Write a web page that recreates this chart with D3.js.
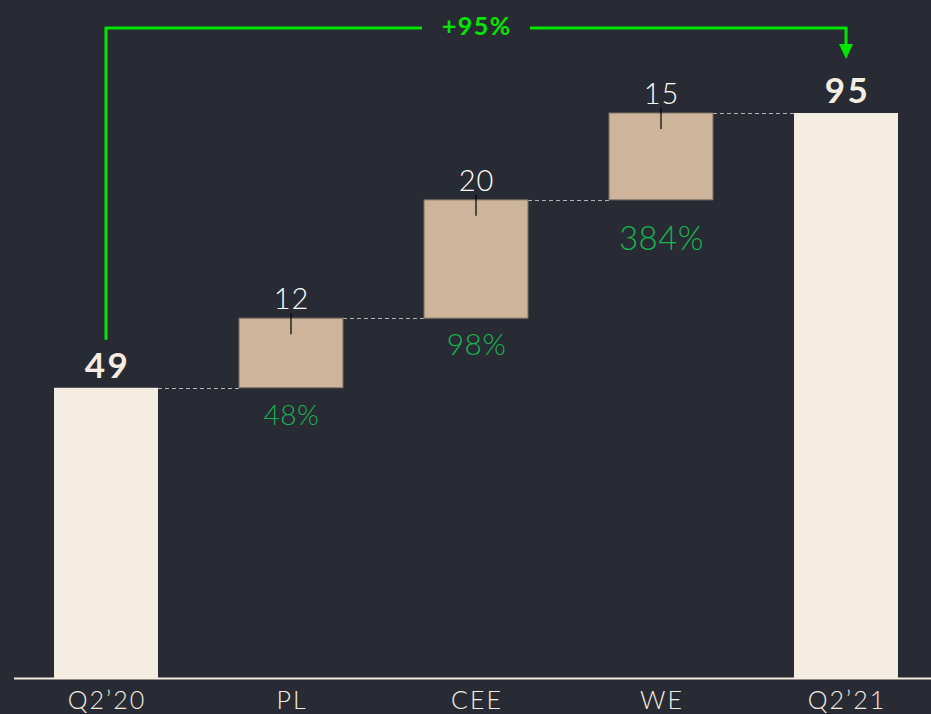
<!DOCTYPE html>
<html>
<head>
<meta charset="utf-8">
<script src="https://cdn.jsdelivr.net/npm/d3@7"></script>
<style>
  body { margin: 0; background: #282b33; }
  svg { display: block; font-family: Lato, "Noto Sans", sans-serif; }
</style>
</head>
<body>
<svg id="chart" width="931" height="714"></svg>
<script>
// # Data
var categories = ['Q2\u201920', 'PL', 'CEE', 'WE', 'Q2\u201921'];
var kinds = ['total', 'delta', 'delta', 'delta', 'total'];
var values = [48.8, 11.7, 19.9, 14.6, 95];
var valueLabels = ['49', '12', '20', '15', '95'];
var growthLabels = [null, '48%', '98%', '384%', null];
var overallLabel = '+95%';

// growth label styling (sizes differ in the original)
var growthSize = [0, 28, 30, 33, 0];
var growthDy = [0, 37, 37, 50, 0];

var W = 931, H = 714;
var svg = d3.select('#chart');

svg.append('rect').attr('width', W).attr('height', H).attr('fill', '#282b33');

var x = d3.scaleBand()
    .domain(categories)
    .range([13.5, 938.5])
    .paddingInner(0.438)
    .paddingOuter(0.219);

var y = d3.scaleLinear().domain([0, 95]).range([678, 113]);

// build waterfall steps
var steps = [];
var run = 0;
for (var i = 0; i < categories.length; i++){
    var s = {cat: categories[i], kind: kinds[i], label: valueLabels[i], growth: growthLabels[i],
             gSize: growthSize[i], gDy: growthDy[i]};
    if (kinds[i] == 'total'){
        s.y0 = 0; s.y1 = values[i]; run = values[i];
    } else {
        s.y0 = run; s.y1 = run + values[i]; run = s.y1;
    }
    steps.push(s);
}

// dashed connectors
for (var i = 0; i < steps.length - 1; i++){
    var lvl = steps[i].y1;
    svg.append('line')
        .attr('x1', x(steps[i].cat) + x.bandwidth())
        .attr('x2', x(steps[i + 1].cat))
        .attr('y1', Math.round(y(lvl)) + 0.5)
        .attr('y2', Math.round(y(lvl)) + 0.5)
        .attr('stroke', '#b5b5b5')
        .attr('stroke-width', 1)
        .attr('stroke-dasharray', '4,3');
}

// bars
svg.selectAll('rect.bar')
    .data(steps)
    .enter().append('rect')
    .attr('class', 'bar')
    .attr('x', d => x(d.cat))
    .attr('y', d => y(d.y1))
    .attr('width', x.bandwidth())
    .attr('height', d => y(d.y0) - y(d.y1))
    .attr('fill', d => d.kind == 'total' ? '#f5ede1' : '#cdb49a')
    .attr('stroke', d => d.kind == 'total' ? 'none' : '#7d7266')
    .attr('stroke-width', 1);

// leader ticks on delta bars
steps.filter(d => d.kind == 'delta').forEach(function(d){
    var cx = x(d.cat) + x.bandwidth() / 2;
    svg.append('line')
        .attr('x1', cx).attr('x2', cx)
        .attr('y1', y(d.y1) - 5).attr('y2', y(d.y1) + 16)
        .attr('stroke', '#000').attr('stroke-width', 1.2);
});

// value labels
svg.selectAll('text.val')
    .data(steps)
    .enter().append('text')
    .attr('class', 'val')
    .attr('x', d => x(d.cat) + x.bandwidth() / 2 + (d.kind == 'total' ? 1.5 : 0.5))
    .attr('y', d => y(d.y1) - (d.kind == 'total' ? 10 : 9))
    .attr('text-anchor', 'middle')
    .attr('fill', d => d.kind == 'total' ? '#f5ede1' : '#ffffff')
    .attr('font-size', d => d.kind == 'total' ? 35 : 29)
    .attr('font-weight', d => d.kind == 'total' ? 700 : 300)
    .attr('letter-spacing', d => d.kind == 'total' ? 2.5 : 1)
    .text(d => d.label);

// growth labels
svg.selectAll('text.growth')
    .data(steps.filter(d => d.growth))
    .enter().append('text')
    .attr('class', 'growth')
    .attr('x', d => x(d.cat) + x.bandwidth() / 2 + 0.5)
    .attr('y', d => y(d.y0) + d.gDy)
    .attr('text-anchor', 'middle')
    .attr('fill', '#16b451')
    .attr('font-size', d => d.gSize)
    .attr('font-weight', 300)
    .attr('letter-spacing', 0.5)
    .text(d => d.growth);

// axis
var axis = svg.append('g').attr('transform', 'translate(0,678)')
    .call(d3.axisBottom(x).tickSize(0).tickPadding(0));
axis.select('.domain').remove();
axis.append('line').attr('x1', 14).attr('x2', W).attr('y1', 0.5).attr('y2', 0.5)
    .attr('stroke', '#f5ede1').attr('stroke-width', 2);
axis.selectAll('text')
    .attr('fill', '#f5ede1')
    .attr('font-size', 25)
    .attr('font-weight', 300)
    .attr('letter-spacing', 2)
    .attr('font-family', 'Lato, "Noto Sans", sans-serif')
    .attr('dx', 1)
    .attr('dy', 0)
    .attr('y', 31);

// overall growth arrow
var first = steps[0], last = steps[steps.length - 1];
var ax0 = x(first.cat) + x.bandwidth() / 2;
var ax1 = x(last.cat) + x.bandwidth() / 2;
var topY = 28;
var green = '#00e600';
var labelX = (ax0 + ax1) / 2;

svg.append('path')
    .attr('d', 'M' + ax0 + ',' + (y(first.y1) - 48) + ' V' + topY + ' H' + (labelX - 54))
    .attr('fill', 'none').attr('stroke', green).attr('stroke-width', 3);
svg.append('path')
    .attr('d', 'M' + (labelX + 54) + ',' + topY + ' H' + ax1 + ' V' + 45)
    .attr('fill', 'none').attr('stroke', green).attr('stroke-width', 3);
svg.append('path')
    .attr('d', 'M' + (ax1 - 7) + ',44 L' + (ax1 + 7) + ',44 L' + ax1 + ',59 Z')
    .attr('fill', green);
svg.append('text')
    .attr('x', labelX + 0.75)
    .attr('y', 35)
    .attr('text-anchor', 'middle')
    .attr('fill', green)
    .attr('font-size', 25)
    .attr('font-weight', 700)
    .attr('letter-spacing', 1.5)
    .text(overallLabel);
</script>
</body>
</html>
